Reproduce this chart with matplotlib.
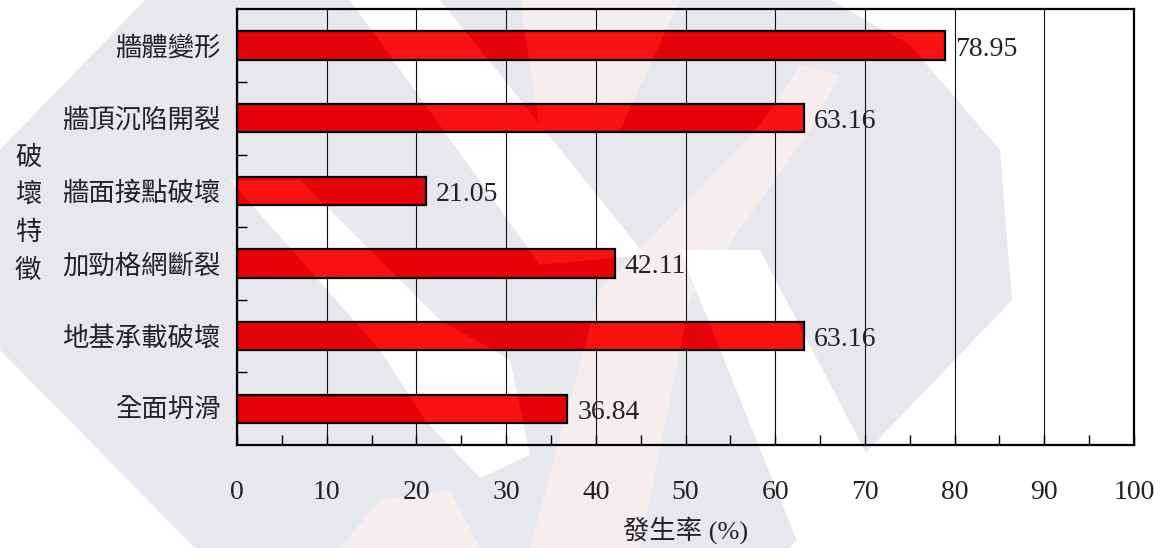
import numpy as np
import matplotlib
matplotlib.use('Agg')
import matplotlib.pyplot as plt
from matplotlib.patches import Polygon
from matplotlib.ticker import MultipleLocator, FixedLocator

plt.rcParams['font.family'] = ['Liberation Serif', 'Noto Sans CJK TC']

# data
categories = ['牆體變形', '牆頂沉陷開裂', '牆面接點破壞', '加勁格網斷裂', '地基承載破壞', '全面坍滑']
values = [78.95, 63.16, 21.05, 42.11, 63.16, 36.84]
x_ticks = [0, 10, 20, 30, 40, 50, 60, 70, 80, 90, 100]
y_label_chars = ['破', '壞', '特', '徵']
x_label = '發生率 (%)'

W, H = 1160, 548
fig = plt.figure(figsize=(W / 100, H / 100), dpi=100)
fig.patch.set_facecolor('white')


def fpoly(pts):
    # pixel coords (y down) -> figure fraction
    return [(x / W, 1 - y / H) for x, y in pts]


# faint logo watermark in the background
wm_gray = [(145, 0), (830, 0), (910, 45), (1000, 150), (1012, 300), (857, 462),
           (790, 548), (195, 548), (0, 350), (0, 150)]
wm_pink = [[(520, 0), (680, 0), (620, 130), (540, 130)],
           [(800, 65), (840, 75), (810, 130), (690, 300), (640, 548), (530, 548),
            (600, 290), (760, 125)],
           [(380, 500), (450, 490), (480, 548), (340, 548)]]
wm_white = [[(350, 0), (440, 0), (645, 255), (540, 265)],
            [(230, 180), (300, 180), (440, 320), (510, 360), (530, 455),
             (480, 478), (425, 420), (380, 350)],
            [(680, 250), (760, 250), (880, 480), (850, 548), (800, 548)]]
wm_topright = [(830, 0), (1160, 0), (1160, 150), (1000, 150), (910, 45)]

fig.add_artist(Polygon(fpoly(wm_gray), transform=fig.transFigure,
                       facecolor='#e7e8ed', edgecolor='none', zorder=-3))
for pts in wm_pink:
    fig.add_artist(Polygon(fpoly(pts), transform=fig.transFigure,
                           facecolor='#f6eeee', edgecolor='none', zorder=-2))
for pts in wm_white:
    fig.add_artist(Polygon(fpoly(pts), transform=fig.transFigure,
                           facecolor='white', edgecolor='none', zorder=-1))

ax = fig.add_axes([237 / W, 1 - 445 / H, (1134 - 237) / W, (445 - 9.3) / H])
ax.set_facecolor('none')

ypos = np.arange(len(categories))
bars = ax.barh(ypos, values, height=0.39, color='#e40308', edgecolor='none', zorder=2)
# lighter streaks where the watermark is white
for bar in bars:
    for pts in wm_white + wm_pink + [wm_topright]:
        p = Polygon(fpoly(pts), transform=fig.transFigure,
                    facecolor='#f91212', edgecolor='none', zorder=2.1)
        ax.add_artist(p)
        p.set_clip_path(bar)
ax.barh(ypos, values, height=0.39, color='none', edgecolor='black', linewidth=1.6, zorder=2.2)

for i, v in enumerate(values):
    ax.annotate(f'{v:.2f}', (v, i), xytext=(7, -2.5), textcoords='offset points',
                va='center', ha='left', fontsize=20, color='#222222')

ax.set_xlim(0, 100)
ax.set_ylim(len(categories) - 0.5, -0.5)
ax.set_xticks(x_ticks)
ax.xaxis.set_minor_locator(MultipleLocator(5))
ax.set_yticks(ypos, categories)
ax.yaxis.set_minor_locator(FixedLocator(ypos[:-1] + 0.5))

ax.grid(axis='x', color='#111111', linewidth=0.8)
ax.set_axisbelow(True)
ax.tick_params(axis='x', which='both', direction='in', length=7, width=1, pad=25,
               labelsize=20, labelcolor='#222222')
ax.tick_params(axis='y', which='major', length=0, pad=12, labelsize=19, labelcolor='#222222')
ax.tick_params(axis='y', which='minor', direction='in', length=7, width=1)
for s in ax.spines.values():
    s.set_linewidth(1.6)

ax.set_xlabel(x_label, fontsize=19, labelpad=8, color='#222222')

for i, ch in enumerate(y_label_chars):
    fig.text(28 / W, 1 - (158 + i * 37.5) / H, ch, fontsize=19, ha='center', va='center',
             color='#222222')

fig.savefig('out.png', dpi=100)
